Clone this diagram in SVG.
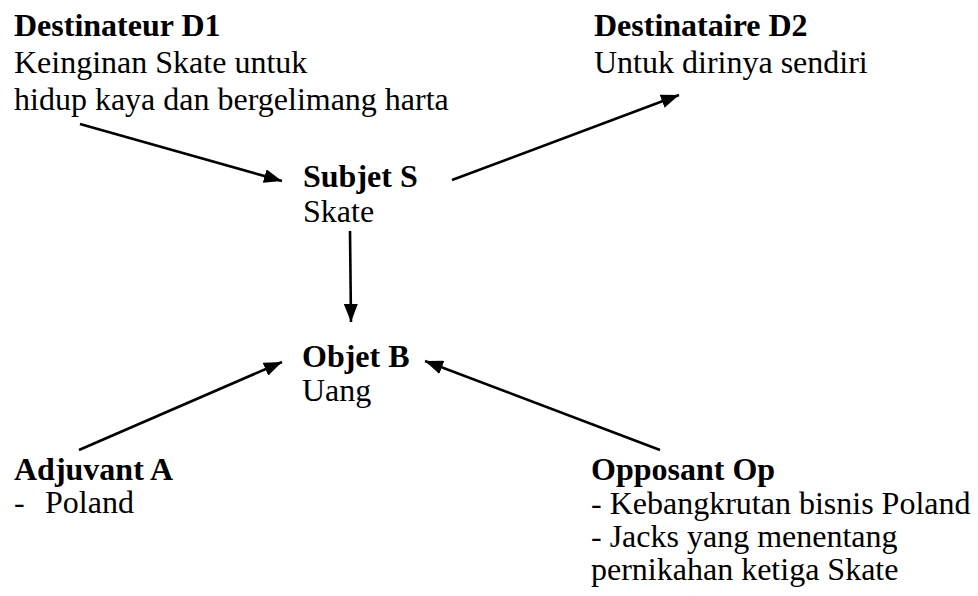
<svg xmlns="http://www.w3.org/2000/svg" width="978" height="596" viewBox="0 0 978 596">
<style>
text{font-family:"Liberation Serif","Times New Roman",serif;font-size:32px;fill:#000}
.b{font-weight:bold}
.c line{stroke:#000;stroke-width:2.6;marker-end:url(#ah)}
</style>
<defs>
<marker id="ah" markerUnits="userSpaceOnUse" markerWidth="18" markerHeight="14" refX="18" refY="7" orient="auto">
<path d="M0,0 L18,7 L0,14 Z" fill="#000"/>
</marker>
</defs>
<rect width="978" height="596" fill="#fff"/>
<g id="destinateur">
<text class="b" x="14" y="36">Destinateur D1</text>
<text x="14" y="73">Keinginan Skate untuk</text>
<text x="14" y="110">hidup kaya dan bergelimang harta</text>
</g>
<g id="destinataire">
<text class="b" x="594" y="36">Destinataire D2</text>
<text x="594" y="73">Untuk dirinya sendiri</text>
</g>
<g id="subjet">
<text class="b" x="303" y="187">Subjet S</text>
<text x="303" y="222">Skate</text>
</g>
<g id="objet">
<text class="b" x="302" y="367">Objet B</text>
<text x="302" y="401">Uang</text>
</g>
<g id="adjuvant">
<text class="b" x="14" y="480">Adjuvant A</text>
<text x="14" y="513" xml:space="preserve">-  <tspan x="45">Poland</tspan></text>
</g>
<g id="opposant">
<text class="b" x="591" y="480">Opposant Op</text>
<text x="591" y="514">- Kebangkrutan bisnis Poland</text>
<text x="591" y="547">- Jacks yang menentang</text>
<text x="591" y="580">pernikahan ketiga Skate</text>
</g>
<g id="connectors" class="c">
<line x1="80" y1="124" x2="282" y2="181"/>
<line x1="452" y1="180" x2="679" y2="95"/>
<line x1="350" y1="231" x2="351" y2="322"/>
<line x1="79" y1="450" x2="282" y2="362"/>
<line x1="660" y1="450" x2="425" y2="361"/>
</g>
</svg>
